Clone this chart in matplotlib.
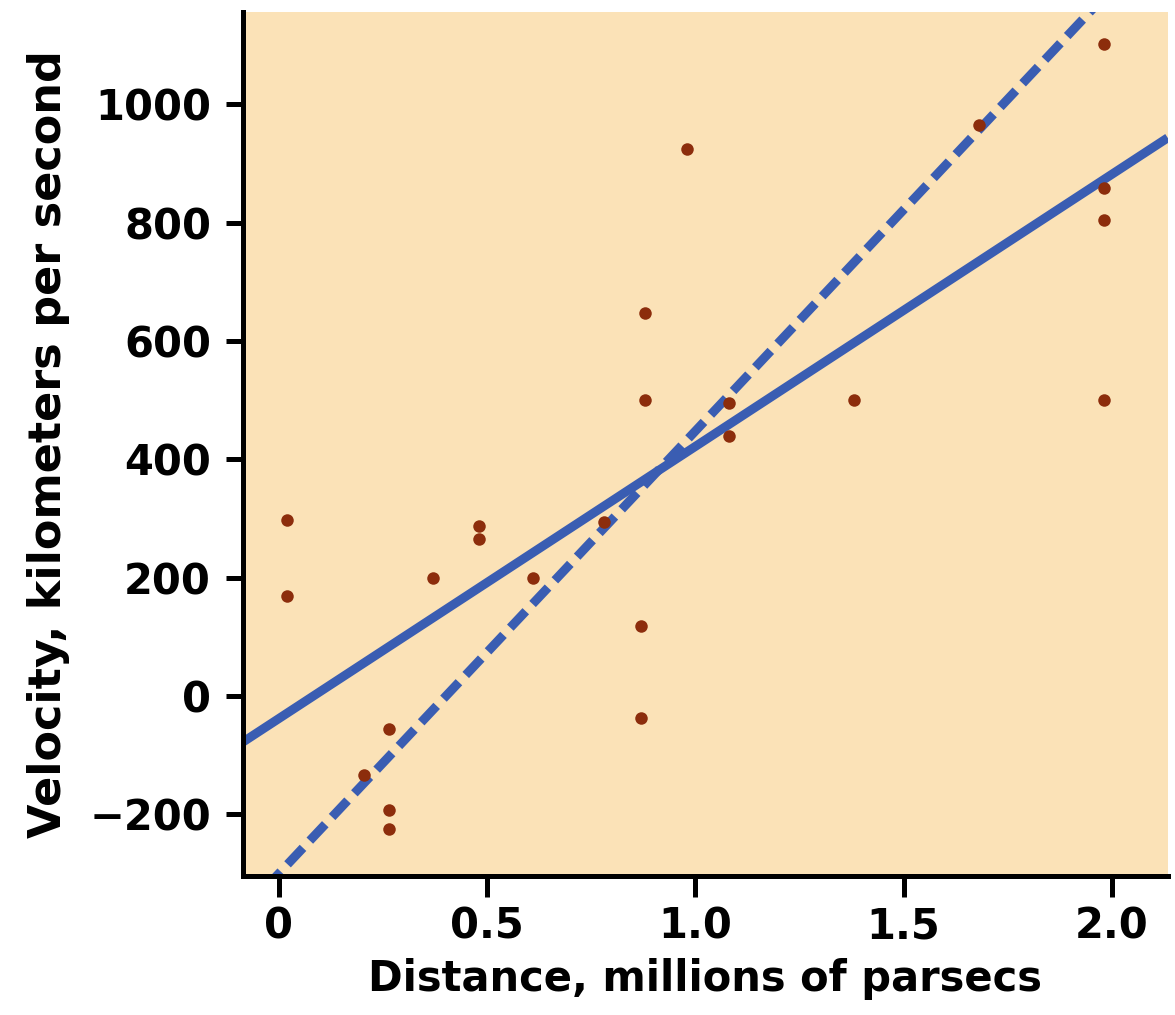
import matplotlib
matplotlib.use("Agg")
import matplotlib.pyplot as plt
import numpy as np

# galaxy distances (millions of parsecs) and velocities (km/s)
distance = [0.02, 0.02, 0.205, 0.265, 0.265, 0.265, 0.37, 0.48, 0.48, 0.61,
            0.78, 0.87, 0.87, 0.88, 0.88, 0.98, 1.08, 1.08, 1.38, 1.68,
            1.98, 1.98, 1.98, 1.98]
velocity = [297, 170, -133, -55, -193, -225, 200, 288, 265, 200,
            295, 118, -37, 648, 500, 925, 495, 440, 501, 965,
            1102, 858, 805, 500]

# fitted lines: (intercept, slope)
solid_fit = (-38, 460)
dashed_fit = (-300, 748)

xticks = [0, 0.5, 1.0, 1.5, 2.0]
xticklabels = ["0", "0.5", "1.0", "1.5", "2.0"]
yticks = [-200, 0, 200, 400, 600, 800, 1000]

bg = "#FBE2B7"
dot = "#8C2D0C"
blue = "#3A5DB2"

fig = plt.figure(figsize=(11.75, 10.15), dpi=100)
ax = fig.add_axes([0.2068, 0.137, 0.787, 0.851])
ax.set_facecolor(bg)

xlim = (-0.086, 2.134)
ylim = (-304, 1156)
xs = np.array(xlim)
ax.plot(xs, solid_fit[0] + solid_fit[1] * xs, color=blue, lw=6.5,
        solid_capstyle="butt", zorder=2)
ax.plot(xs, dashed_fit[0] + dashed_fit[1] * xs, color=blue, lw=6.5,
        dashes=(2.5, 1.1), dash_capstyle="butt", zorder=2)
ax.plot(distance, velocity, "o", color=dot, ms=9, mew=0, zorder=3)

ax.set_xlim(xlim)
ax.set_ylim(ylim)

for s in ["top", "right"]:
    ax.spines[s].set_visible(False)
for s in ["left", "bottom"]:
    ax.spines[s].set_linewidth(3.6)

ax.set_xticks(xticks)
ax.set_xticklabels(xticklabels, fontweight="bold", fontsize=30)
ax.set_yticks(yticks)
ax.set_yticklabels([str(v).replace("-", "\u2212") for v in yticks],
                   fontweight="bold", fontsize=30)
ax.tick_params(axis="x", length=15, width=3.6, pad=6)
ax.tick_params(axis="y", length=12, width=3.6, pad=11)

ax.set_xlabel("Distance, millions of parsecs", fontweight="bold",
              fontsize=30, labelpad=8)
ax.set_ylabel("Velocity, kilometers per second", fontweight="bold",
              fontsize=32, labelpad=14)

fig.savefig("out.png", dpi=100)
